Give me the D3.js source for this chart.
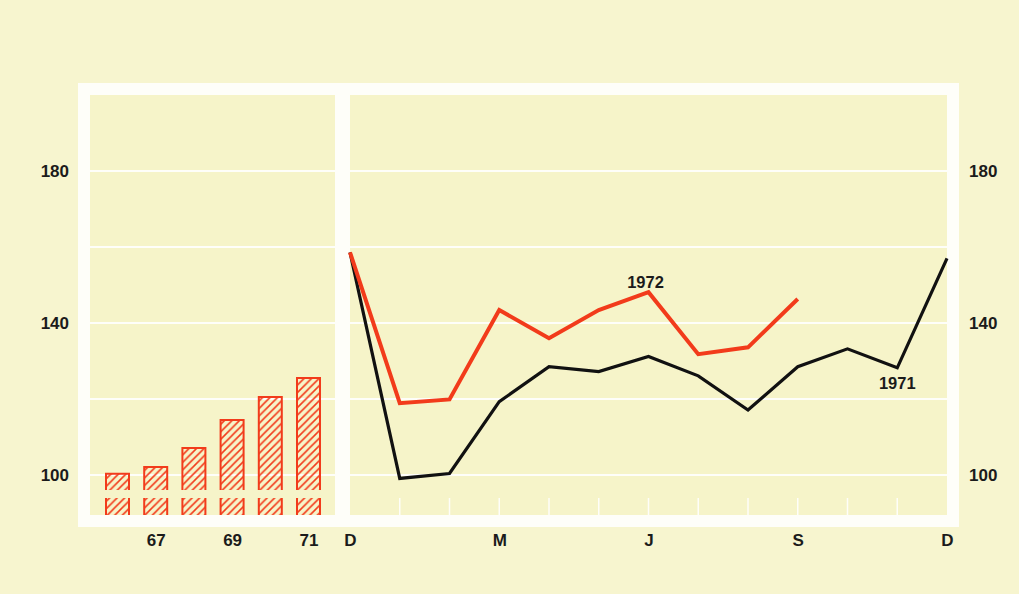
<!DOCTYPE html>
<html>
<head>
<meta charset="utf-8">
<script src="https://cdn.jsdelivr.net/npm/d3@7"></script>
<style>
  html, body { margin: 0; padding: 0; background: #f7f5cf; }
  svg text { font-family: "Liberation Sans", Arial, sans-serif; font-weight: bold; fill: #1b1b1b; }
</style>
</head>
<body>
<svg id="chart" width="1019" height="594"></svg>
<script>
// yearly index (bars), 1966-1971
var years = [1966, 1967, 1968, 1969, 1970, 1971];
var yearVals = [100.3, 102.1, 107.1, 114.5, 120.5, 125.5];
var yearLabels = [1967, 1969, 1971];

// monthly index, Dec to Dec
var monthNames = ["D", "J", "F", "M", "A", "M", "J", "J", "A", "S", "O", "N", "D"];
var monthTicks = [0, 3, 6, 9, 12];
var vals1971 = [158.6, 99.1, 100.4, 119.3, 128.5, 127.2, 131.2, 126.1, 117.1, 128.5, 133.2, 128.2, 157.0];
var vals1972 = [158.6, 118.9, 119.9, 143.4, 136.0, 143.4, 148.1, 131.8, 133.6, 146.3];

var gridVals = [100, 120, 140, 160, 180];
var yLabels = [100, 140, 180];

var svg = d3.select("#chart");
var red = "#f23b1b";
var plotBg = "#f6f4c9";

var y = d3.scaleLinear().domain([100, 200]).range([475, 95]);
var xm = d3.scaleLinear().domain([0, 12]).range([350, 947]);
var xy = d3.scaleLinear().domain([1966, 1971]).range([117.5, 308.5]);

var defs = svg.append("defs");
defs.append("pattern")
    .attr("id", "hatch")
    .attr("patternUnits", "userSpaceOnUse")
    .attr("width", 7.5).attr("height", 7.5)
  .append("path")
    .attr("d", "M-1,1 l2,-2 M0,7.5 l7.5,-7.5 M6.5,8.5 l2,-2")
    .attr("stroke", red).attr("stroke-width", 1.6);

svg.append("rect").attr("width", 1019).attr("height", 594).attr("fill", "#f7f5cf");

// white frame and the two panels
svg.append("rect").attr("x", 78).attr("y", 83).attr("width", 881).attr("height", 444).attr("fill", "#fefef9");
var panels = [[90, 335], [350, 947]];
panels.forEach(function(p) {
    svg.append("rect").attr("x", p[0]).attr("y", 95).attr("width", p[1] - p[0]).attr("height", 420).attr("fill", plotBg);
    svg.append("g").selectAll("line").data(gridVals).enter().append("line")
        .attr("x1", p[0]).attr("x2", p[1])
        .attr("y1", function(d) { return y(d); })
        .attr("y2", function(d) { return y(d); })
        .attr("stroke", "#fefef9").attr("stroke-width", 2);
});

// short month marks at the bottom of the right panel
svg.append("g").selectAll("line").data(d3.range(1, 12)).enter().append("line")
    .attr("x1", function(d) { return xm(d); })
    .attr("x2", function(d) { return xm(d); })
    .attr("y1", 498).attr("y2", 515)
    .attr("stroke", "#fefef9").attr("stroke-width", 1.5);

// bars with a break near the bottom
var bw = 23;
var bars = svg.append("g").selectAll("g").data(years).enter().append("g");
bars.append("rect")
    .attr("x", function(d) { return xy(d) - bw / 2; })
    .attr("y", function(d, i) { return y(yearVals[i]); })
    .attr("width", bw)
    .attr("height", function(d, i) { return 490 - y(yearVals[i]); })
    .attr("fill", "url(#hatch)");
bars.append("path")
    .attr("d", function(d, i) {
        var x0 = xy(d) - bw / 2, t = y(yearVals[i]);
        return "M" + x0 + ",490V" + t + "H" + (x0 + bw) + "V490";
    })
    .attr("fill", "none").attr("stroke", red).attr("stroke-width", 2);
bars.append("rect")
    .attr("x", function(d) { return xy(d) - bw / 2; })
    .attr("y", 498).attr("width", bw).attr("height", 17)
    .attr("fill", "url(#hatch)");
bars.append("path")
    .attr("d", function(d) {
        var x0 = xy(d) - bw / 2;
        return "M" + x0 + ",498V515M" + (x0 + bw) + ",498V515";
    })
    .attr("fill", "none").attr("stroke", red).attr("stroke-width", 2);

// lines
var line = d3.line().x(function(d, i) { return xm(i); }).y(function(d) { return y(d); });
svg.append("path").datum(vals1971).attr("d", line)
    .attr("fill", "none").attr("stroke", "#111").attr("stroke-width", 3.2).attr("stroke-linejoin", "miter");
svg.append("path").datum(vals1972).attr("d", line)
    .attr("fill", "none").attr("stroke", red).attr("stroke-width", 4).attr("stroke-linejoin", "miter");

svg.append("text").attr("x", xm(6) - 3).attr("y", 288).attr("text-anchor", "middle").attr("font-size", 16.5).text("1972");
svg.append("text").attr("x", xm(11)).attr("y", 389).attr("text-anchor", "middle").attr("font-size", 16.5).text("1971");

// axes
function clean(g) {
    g.select(".domain").remove();
    g.selectAll("text").attr("font-size", 17).attr("font-family", null);
}
svg.append("g").attr("transform", "translate(69,0)")
    .call(d3.axisLeft(y).tickValues(yLabels).tickSize(0).tickPadding(0))
    .call(clean);
svg.append("g").attr("transform", "translate(969,0)")
    .call(d3.axisRight(y).tickValues(yLabels).tickSize(0).tickPadding(0))
    .call(clean);
svg.append("g").attr("transform", "translate(0,534)")
    .call(d3.axisBottom(xm).tickValues(monthTicks).tickSize(0).tickPadding(0)
        .tickFormat(function(d) { return monthNames[d]; }))
    .call(clean);
svg.append("g").attr("transform", "translate(0,534)")
    .call(d3.axisBottom(xy).tickValues(yearLabels).tickSize(0).tickPadding(0)
        .tickFormat(function(d) { return String(d).slice(2); }))
    .call(clean);
</script>
</body>
</html>
